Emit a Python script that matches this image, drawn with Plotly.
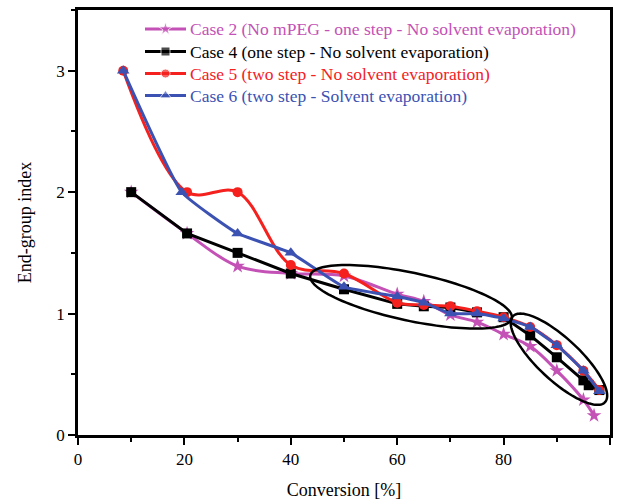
import numpy as np
import plotly.graph_objects as go

# ---- data ----
case2_x = [10, 20.5, 30, 40, 50, 60, 65, 70, 75, 80, 85, 90, 95, 97]
case2_y = [2.0, 1.66, 1.39, 1.33, 1.31, 1.16, 1.10, 0.99, 0.93, 0.83, 0.73, 0.53, 0.29, 0.16]

case4_x = [10, 20.5, 30, 40, 50, 60, 65, 70, 75, 80, 85, 90, 95, 96, 98]
case4_y = [2.0, 1.66, 1.50, 1.33, 1.20, 1.08, 1.06, 1.05, 1.01, 0.97, 0.82, 0.64, 0.45, 0.41, 0.37]

case5_x = [8.5, 20.5, 30, 40, 50, 60, 65, 70, 75, 80, 85, 90, 95, 98]
case5_y = [3.0, 2.0, 2.0, 1.40, 1.33, 1.09, 1.07, 1.06, 1.02, 0.97, 0.89, 0.74, 0.53, 0.37]

case6_x = [8.5, 19.5, 30, 40, 50, 60, 65, 70, 75, 80, 85, 90, 95, 98]
case6_y = [3.0, 2.0, 1.66, 1.50, 1.22, 1.14, 1.09, 1.00, 1.00, 0.96, 0.89, 0.74, 0.53, 0.36]

names = [
    "Case 2 (No mPEG - one step - No solvent evaporation)",
    "Case 4 (one step - No solvent evaporation)",
    "Case 5 (two step - No solvent evaporation)",
    "Case 6 (two step - Solvent evaporation)",
]
colors = ["#C451B6", "#000000", "#F4211F", "#3C52B2"]
symbols = ["star", "square", "circle", "triangle-up"]
msizes = [11, 10, 10, 11]
shapes_line = ["spline", "linear", "spline", "spline"]
smooth = [1.0, 0, 1.0, 0.4]

X_RANGE = [0, 100]
Y_RANGE = [0, 3.5]
x_major = [0, 20, 40, 60, 80, 100]
y_major = [0, 1, 2, 3]

# ellipse annotations: centre (data), semi-axes (px), rotation (deg, screen)
ellipses = [
    dict(cx=62.6, cy=1.138, a=103, b=24, ang=12),
    dict(cx=90.4, cy=0.624, a=63, b=21, ang=43),
]

W, H = 622, 504
ML, MR, MT, MB = 78, 12, 10, 69
plot_w = W - ML - MR
plot_h = H - MT - MB
px_x = plot_w / (X_RANGE[1] - X_RANGE[0])
px_y = plot_h / (Y_RANGE[1] - Y_RANGE[0])

# legend layout (page pixels)
LEG_KEY_X0, LEG_KEY_X1, LEG_TEXT_X = 145, 186, 188
LEG_ROWS = [29, 51.5, 73.5, 95.5]

FONT = "'Liberation Serif', 'Times New Roman', 'DejaVu Serif', serif"

fig = go.Figure()
series = [(case2_x, case2_y), (case4_x, case4_y), (case5_x, case5_y), (case6_x, case6_y)]
for (xs, ys), nm, c, s, ms, ls, sm in zip(series, names, colors, symbols, msizes, shapes_line, smooth):
    line = dict(color=c, width=3, shape=ls)
    if ls == "spline":
        line["smoothing"] = sm
    fig.add_trace(go.Scatter(
        x=xs, y=ys, mode="lines+markers", name=nm, showlegend=False,
        line=line, marker=dict(symbol=s, size=ms, color=c),
    ))

# legend drawn on a pixel-space overlay axis
annotations = []
for nm, c, s, ms, row in zip(names, colors, symbols, msizes, LEG_ROWS):
    mid = (LEG_KEY_X0 + LEG_KEY_X1) / 2
    fig.add_trace(go.Scatter(
        x=[LEG_KEY_X0, mid, LEG_KEY_X1], y=[row, row, row],
        xaxis="x2", yaxis="y2", mode="lines+markers", showlegend=False,
        hoverinfo="skip",
        line=dict(color=c, width=3),
        marker=dict(symbol=s, size=[0, ms - 1, 0], color=c),
    ))
    annotations.append(dict(
        x=LEG_TEXT_X, y=row, xref="x2", yref="y2", text=nm, showarrow=False,
        xanchor="left", yanchor="middle",
        font=dict(family=FONT, size=17.5, color=c),
    ))

shapes = []
t = np.linspace(0, 2 * np.pi, 120)
for e in ellipses:
    th = np.radians(e["ang"])
    u = e["a"] * np.cos(t)
    v = e["b"] * np.sin(t)
    dx = u * np.cos(th) - v * np.sin(th)
    dy = u * np.sin(th) + v * np.cos(th)
    xs = e["cx"] + dx / px_x
    ys = e["cy"] - dy / px_y
    path = "M " + " L ".join(f"{a:.3f},{b:.4f}" for a, b in zip(xs, ys)) + " Z"
    shapes.append(dict(type="path", path=path, xref="x", yref="y",
                       line=dict(color="black", width=2.5), layer="above"))

fig.update_layout(
    width=W, height=H,
    margin=dict(l=ML, r=MR, t=MT, b=MB, autoexpand=False),
    paper_bgcolor="white", plot_bgcolor="white",
    font=dict(family=FONT, size=17, color="black"),
    shapes=shapes,
    annotations=annotations,
    showlegend=False,
    xaxis=dict(range=X_RANGE, tickvals=x_major, showgrid=False, zeroline=False,
               automargin=False,
               showline=True, linecolor="black", linewidth=2.5, mirror=True,
               ticks="outside", ticklen=7, tickwidth=2, tickcolor="black",
               minor=dict(dtick=10, ticks="outside", ticklen=4, tickwidth=2, tickcolor="black"),
               title=dict(text="Conversion [%]", font=dict(size=18, family=FONT), standoff=16),
               tickfont=dict(size=17, family=FONT)),
    yaxis=dict(range=Y_RANGE, tickvals=y_major, showgrid=False, zeroline=False,
               automargin=False,
               showline=True, linecolor="black", linewidth=2.5, mirror=True,
               ticks="outside", ticklen=7, tickwidth=2, tickcolor="black",
               minor=dict(dtick=0.5, ticks="outside", ticklen=4, tickwidth=2, tickcolor="black"),
               title=dict(text="End-group index", font=dict(size=18, family=FONT), standoff=21),
               tickfont=dict(size=17, family=FONT)),
    xaxis2=dict(overlaying="x", range=[ML, W - MR], visible=False, fixedrange=True),
    yaxis2=dict(overlaying="y", range=[H - MB, MT], visible=False, fixedrange=True),
)

fig.write_html("out.html", config={"displayModeBar": False},
               post_script="document.body.style.margin='0';document.body.style.padding='0';")
